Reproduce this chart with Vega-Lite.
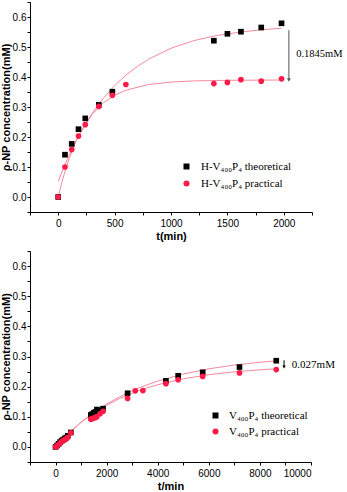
{
  "$schema": "https://vega.github.io/schema/vega-lite/v6.json",
  "padding": {"left": 0, "top": 1, "right": 0, "bottom": 0},
  "spacing": 9,
  "config": {
    "view": {"stroke": null},
    "axis": {
      "grid": false,
      "domainColor": "#000000",
      "tickColor": "#000000",
      "labelColor": "#000000",
      "titleColor": "#000000",
      "labelFont": "Liberation Sans",
      "labelFontSize": 10,
      "titleFont": "Liberation Sans",
      "titleFontSize": 11,
      "titleFontWeight": "bold",
      "labelPadding": 1,
      "tickSize": 3
    },
    "axisX": {"labelPadding": 3, "titlePadding": 2},
    "axisY": {"titlePadding": 1},
    "legend": {
      "labelFont": "Liberation Serif",
      "labelFontSize": 11,
      "labelColor": "#000000",
      "padding": 0,
      "rowPadding": 5,
      "labelOffset": 9,
      "symbolSize": 36,
      "symbolStrokeWidth": 0
    }
  },
  "datasets": {
    "top_pts": [
      {"t": 0, "y": 0, "series": "H-V₄₀₀P₄ theoretical"},
      {"t": 60, "y": 0.141, "series": "H-V₄₀₀P₄ theoretical"},
      {"t": 120, "y": 0.177, "series": "H-V₄₀₀P₄ theoretical"},
      {"t": 180, "y": 0.226, "series": "H-V₄₀₀P₄ theoretical"},
      {"t": 240, "y": 0.262, "series": "H-V₄₀₀P₄ theoretical"},
      {"t": 360, "y": 0.307, "series": "H-V₄₀₀P₄ theoretical"},
      {"t": 480, "y": 0.351, "series": "H-V₄₀₀P₄ theoretical"},
      {"t": 1380, "y": 0.521, "series": "H-V₄₀₀P₄ theoretical"},
      {"t": 1500, "y": 0.544, "series": "H-V₄₀₀P₄ theoretical"},
      {"t": 1620, "y": 0.551, "series": "H-V₄₀₀P₄ theoretical"},
      {"t": 1800, "y": 0.565, "series": "H-V₄₀₀P₄ theoretical"},
      {"t": 1980, "y": 0.579, "series": "H-V₄₀₀P₄ theoretical"},
      {"t": 0, "y": 0, "series": "H-V₄₀₀P₄ practical"},
      {"t": 60, "y": 0.1, "series": "H-V₄₀₀P₄ practical"},
      {"t": 120, "y": 0.158, "series": "H-V₄₀₀P₄ practical"},
      {"t": 180, "y": 0.203, "series": "H-V₄₀₀P₄ practical"},
      {"t": 240, "y": 0.241, "series": "H-V₄₀₀P₄ practical"},
      {"t": 360, "y": 0.302, "series": "H-V₄₀₀P₄ practical"},
      {"t": 480, "y": 0.339, "series": "H-V₄₀₀P₄ practical"},
      {"t": 600, "y": 0.375, "series": "H-V₄₀₀P₄ practical"},
      {"t": 1380, "y": 0.378, "series": "H-V₄₀₀P₄ practical"},
      {"t": 1500, "y": 0.382, "series": "H-V₄₀₀P₄ practical"},
      {"t": 1620, "y": 0.391, "series": "H-V₄₀₀P₄ practical"},
      {"t": 1800, "y": 0.386, "series": "H-V₄₀₀P₄ practical"},
      {"t": 1980, "y": 0.394, "series": "H-V₄₀₀P₄ practical"}
    ],
    "top_fit": [
      {"t": 0, "y": 0.052, "fit": "theoretical"},
      {"t": 50, "y": 0.099, "fit": "theoretical"},
      {"t": 100, "y": 0.142, "fit": "theoretical"},
      {"t": 150, "y": 0.181, "fit": "theoretical"},
      {"t": 200, "y": 0.216, "fit": "theoretical"},
      {"t": 300, "y": 0.278, "fit": "theoretical"},
      {"t": 400, "y": 0.329, "fit": "theoretical"},
      {"t": 500, "y": 0.371, "fit": "theoretical"},
      {"t": 600, "y": 0.406, "fit": "theoretical"},
      {"t": 700, "y": 0.435, "fit": "theoretical"},
      {"t": 800, "y": 0.459, "fit": "theoretical"},
      {"t": 1000, "y": 0.496, "fit": "theoretical"},
      {"t": 1200, "y": 0.521, "fit": "theoretical"},
      {"t": 1400, "y": 0.538, "fit": "theoretical"},
      {"t": 1600, "y": 0.549, "fit": "theoretical"},
      {"t": 1800, "y": 0.5575, "fit": "theoretical"},
      {"t": 1980, "y": 0.5625, "fit": "theoretical"},
      {"t": 0, "y": 0, "fit": "practical"},
      {"t": 25, "y": 0.038, "fit": "practical"},
      {"t": 50, "y": 0.072, "fit": "practical"},
      {"t": 100, "y": 0.131, "fit": "practical"},
      {"t": 150, "y": 0.179, "fit": "practical"},
      {"t": 200, "y": 0.218, "fit": "practical"},
      {"t": 300, "y": 0.275, "fit": "practical"},
      {"t": 400, "y": 0.314, "fit": "practical"},
      {"t": 500, "y": 0.339, "fit": "practical"},
      {"t": 600, "y": 0.356, "fit": "practical"},
      {"t": 800, "y": 0.375, "fit": "practical"},
      {"t": 1000, "y": 0.383, "fit": "practical"},
      {"t": 1200, "y": 0.387, "fit": "practical"},
      {"t": 1500, "y": 0.389, "fit": "practical"},
      {"t": 1980, "y": 0.39, "fit": "practical"}
    ],
    "top_rule": [{"t": 2045, "y": 0.556, "y2": 0.395}],
    "top_head": [{"t": 2045, "y": 0.39}],
    "top_text": [{"t": 2110, "y": 0.476, "label": "0.1845mM"}],
    "bot_pts": [
      {"t": 0, "y": 0, "series": "V₄₀₀P₄ theoretical"},
      {"t": 60, "y": 0.005, "series": "V₄₀₀P₄ theoretical"},
      {"t": 120, "y": 0.01, "series": "V₄₀₀P₄ theoretical"},
      {"t": 180, "y": 0.016, "series": "V₄₀₀P₄ theoretical"},
      {"t": 240, "y": 0.021, "series": "V₄₀₀P₄ theoretical"},
      {"t": 300, "y": 0.024, "series": "V₄₀₀P₄ theoretical"},
      {"t": 360, "y": 0.028, "series": "V₄₀₀P₄ theoretical"},
      {"t": 420, "y": 0.031, "series": "V₄₀₀P₄ theoretical"},
      {"t": 480, "y": 0.037, "series": "V₄₀₀P₄ theoretical"},
      {"t": 600, "y": 0.048, "series": "V₄₀₀P₄ theoretical"},
      {"t": 1380, "y": 0.106, "series": "V₄₀₀P₄ theoretical"},
      {"t": 1440, "y": 0.109, "series": "V₄₀₀P₄ theoretical"},
      {"t": 1500, "y": 0.113, "series": "V₄₀₀P₄ theoretical"},
      {"t": 1560, "y": 0.116, "series": "V₄₀₀P₄ theoretical"},
      {"t": 1620, "y": 0.124, "series": "V₄₀₀P₄ theoretical"},
      {"t": 1740, "y": 0.121, "series": "V₄₀₀P₄ theoretical"},
      {"t": 1860, "y": 0.127, "series": "V₄₀₀P₄ theoretical"},
      {"t": 2820, "y": 0.178, "series": "V₄₀₀P₄ theoretical"},
      {"t": 4320, "y": 0.219, "series": "V₄₀₀P₄ theoretical"},
      {"t": 4800, "y": 0.236, "series": "V₄₀₀P₄ theoretical"},
      {"t": 5760, "y": 0.2475, "series": "V₄₀₀P₄ theoretical"},
      {"t": 7200, "y": 0.265, "series": "V₄₀₀P₄ theoretical"},
      {"t": 8640, "y": 0.286, "series": "V₄₀₀P₄ theoretical"},
      {"t": 0, "y": 0, "series": " V₄₀₀P₄ practical"},
      {"t": 60, "y": 0.004, "series": " V₄₀₀P₄ practical"},
      {"t": 120, "y": 0.008, "series": " V₄₀₀P₄ practical"},
      {"t": 180, "y": 0.013, "series": " V₄₀₀P₄ practical"},
      {"t": 240, "y": 0.018, "series": " V₄₀₀P₄ practical"},
      {"t": 300, "y": 0.021, "series": " V₄₀₀P₄ practical"},
      {"t": 360, "y": 0.024, "series": " V₄₀₀P₄ practical"},
      {"t": 420, "y": 0.027, "series": " V₄₀₀P₄ practical"},
      {"t": 480, "y": 0.032, "series": " V₄₀₀P₄ practical"},
      {"t": 600, "y": 0.047, "series": " V₄₀₀P₄ practical"},
      {"t": 1380, "y": 0.092, "series": " V₄₀₀P₄ practical"},
      {"t": 1440, "y": 0.094, "series": " V₄₀₀P₄ practical"},
      {"t": 1500, "y": 0.096, "series": " V₄₀₀P₄ practical"},
      {"t": 1560, "y": 0.098, "series": " V₄₀₀P₄ practical"},
      {"t": 1620, "y": 0.1, "series": " V₄₀₀P₄ practical"},
      {"t": 1740, "y": 0.11, "series": " V₄₀₀P₄ practical"},
      {"t": 1860, "y": 0.118, "series": " V₄₀₀P₄ practical"},
      {"t": 2820, "y": 0.161, "series": " V₄₀₀P₄ practical"},
      {"t": 3120, "y": 0.186, "series": " V₄₀₀P₄ practical"},
      {"t": 3420, "y": 0.187, "series": " V₄₀₀P₄ practical"},
      {"t": 4320, "y": 0.21, "series": " V₄₀₀P₄ practical"},
      {"t": 4800, "y": 0.223, "series": " V₄₀₀P₄ practical"},
      {"t": 5760, "y": 0.234, "series": " V₄₀₀P₄ practical"},
      {"t": 7200, "y": 0.2455, "series": " V₄₀₀P₄ practical"},
      {"t": 8640, "y": 0.2565, "series": " V₄₀₀P₄ practical"}
    ],
    "bot_fit": [
      {"t": 0, "y": 0, "fit": "theoretical"},
      {"t": 250, "y": 0.023, "fit": "theoretical"},
      {"t": 500, "y": 0.0443, "fit": "theoretical"},
      {"t": 1000, "y": 0.0821, "fit": "theoretical"},
      {"t": 1500, "y": 0.1145, "fit": "theoretical"},
      {"t": 2000, "y": 0.1422, "fit": "theoretical"},
      {"t": 2500, "y": 0.1659, "fit": "theoretical"},
      {"t": 3000, "y": 0.1862, "fit": "theoretical"},
      {"t": 3500, "y": 0.2035, "fit": "theoretical"},
      {"t": 4000, "y": 0.2183, "fit": "theoretical"},
      {"t": 5000, "y": 0.2419, "fit": "theoretical"},
      {"t": 6000, "y": 0.2591, "fit": "theoretical"},
      {"t": 7000, "y": 0.2717, "fit": "theoretical"},
      {"t": 8000, "y": 0.2809, "fit": "theoretical"},
      {"t": 8640, "y": 0.2855, "fit": "theoretical"},
      {"t": 0, "y": 0, "fit": "practical"},
      {"t": 250, "y": 0.0232, "fit": "practical"},
      {"t": 500, "y": 0.0444, "fit": "practical"},
      {"t": 1000, "y": 0.0815, "fit": "practical"},
      {"t": 1500, "y": 0.1127, "fit": "practical"},
      {"t": 2000, "y": 0.1386, "fit": "practical"},
      {"t": 2500, "y": 0.1603, "fit": "practical"},
      {"t": 3000, "y": 0.1785, "fit": "practical"},
      {"t": 3500, "y": 0.1937, "fit": "practical"},
      {"t": 4000, "y": 0.2064, "fit": "practical"},
      {"t": 5000, "y": 0.226, "fit": "practical"},
      {"t": 6000, "y": 0.2397, "fit": "practical"},
      {"t": 7000, "y": 0.2492, "fit": "practical"},
      {"t": 8000, "y": 0.2559, "fit": "practical"},
      {"t": 8640, "y": 0.259, "fit": "practical"}
    ],
    "bot_rule": [{"t": 8945, "y": 0.2876, "y2": 0.268}],
    "bot_head": [{"t": 8945, "y": 0.265}],
    "bot_text": [{"t": 9250, "y": 0.273, "label": "0.027mM"}]
  },
  "vconcat": [
    {
      "width": 282,
      "height": 210,
      "encoding": {
        "x": {
          "field": "t", "type": "quantitative",
          "scale": {"domain": [-250, 2250], "nice": false, "zero": false},
          "axis": {
            "title": "t(min)",
            "format": "d",
            "values": [-250, 0, 250, 500, 750, 1000, 1250, 1500, 1750, 2000, 2250],
            "labelExpr": "datum.value % 500 === 0 ? datum.label : ''"
          }
        },
        "y": {
          "field": "y", "type": "quantitative",
          "scale": {"domain": [-0.05, 0.65], "nice": false, "zero": false},
          "axis": {
            "title": "ρ-NP concentration(mM)",
            "values": [-0.05, 0, 0.05, 0.1, 0.15, 0.2, 0.25, 0.3, 0.35, 0.4, 0.45, 0.5, 0.55, 0.6, 0.65],
            "labelExpr": "abs(round(datum.value*20)) % 2 === 0 ? format(datum.value, '.1f') : ''"
          }
        }
      },
      "layer": [
        {
          "data": {"name": "top_fit"},
          "mark": {"type": "line", "color": "#F4899D", "strokeWidth": 1},
          "encoding": {"detail": {"field": "fit"}}
        },
        {
          "data": {"name": "top_pts"},
          "mark": {"type": "point", "filled": true, "opacity": 1, "size": 32},
          "encoding": {
            "color": {
              "field": "series", "type": "nominal",
              "scale": {"domain": ["H-V₄₀₀P₄ theoretical", "H-V₄₀₀P₄ practical"], "range": ["#000000", "#FF1A47"]},
              "legend": {"title": null, "orient": "none", "legendX": 151, "legendY": 159}
            },
            "shape": {
              "field": "series", "type": "nominal",
              "scale": {"domain": ["H-V₄₀₀P₄ theoretical", "H-V₄₀₀P₄ practical"], "range": ["square", "circle"]},
              "legend": {"title": null, "orient": "none", "legendX": 151, "legendY": 159}
            }
          }
        },
        {
          "data": {"name": "top_rule"},
          "mark": {"type": "rule", "color": "#555555", "strokeWidth": 1},
          "encoding": {"y2": {"field": "y2"}}
        },
        {
          "data": {"name": "top_head"},
          "mark": {"type": "point", "shape": "triangle-down", "filled": true, "color": "#555555", "size": 16, "opacity": 1},
          "encoding": {}
        },
        {
          "data": {"name": "top_text"},
          "mark": {"type": "text", "font": "Liberation Serif", "fontSize": 10.5, "align": "left", "baseline": "middle", "color": "#000000"},
          "encoding": {"text": {"field": "label"}}
        }
      ]
    },
    {
      "width": 281,
      "height": 211,
      "encoding": {
        "x": {
          "field": "t", "type": "quantitative",
          "scale": {"domain": [-1000, 10000], "nice": false, "zero": false},
          "axis": {
            "title": "t/min",
            "format": "d",
            "values": [-1000, 0, 1000, 2000, 3000, 4000, 5000, 6000, 7000, 8000, 9000, 10000],
            "labelExpr": "datum.value % 2000 === 0 ? datum.label : ''"
          }
        },
        "y": {
          "field": "y", "type": "quantitative",
          "scale": {"domain": [-0.05, 0.65], "nice": false, "zero": false},
          "axis": {
            "title": "ρ-NP concentration(mM)",
            "values": [-0.05, 0, 0.05, 0.1, 0.15, 0.2, 0.25, 0.3, 0.35, 0.4, 0.45, 0.5, 0.55, 0.6, 0.65],
            "labelExpr": "abs(round(datum.value*20)) % 2 === 0 ? format(datum.value, '.1f') : ''"
          }
        }
      },
      "layer": [
        {
          "data": {"name": "bot_fit"},
          "mark": {"type": "line", "color": "#F4899D", "strokeWidth": 1},
          "encoding": {"detail": {"field": "fit"}}
        },
        {
          "data": {"name": "bot_pts"},
          "mark": {"type": "point", "filled": true, "opacity": 1, "size": 32},
          "encoding": {
            "color": {
              "field": "series", "type": "nominal",
              "scale": {"domain": ["V₄₀₀P₄ theoretical", " V₄₀₀P₄ practical"], "range": ["#000000", "#FF1A47"]},
              "legend": {"title": null, "orient": "none", "legendX": 180, "legendY": 159, "labelOffset": 8, "rowPadding": 4}
            },
            "shape": {
              "field": "series", "type": "nominal",
              "scale": {"domain": ["V₄₀₀P₄ theoretical", " V₄₀₀P₄ practical"], "range": ["square", "circle"]},
              "legend": {"title": null, "orient": "none", "legendX": 180, "legendY": 159, "labelOffset": 8, "rowPadding": 4}
            }
          }
        },
        {
          "data": {"name": "bot_rule"},
          "mark": {"type": "rule", "color": "#000000", "strokeWidth": 1},
          "encoding": {"y2": {"field": "y2"}}
        },
        {
          "data": {"name": "bot_head"},
          "mark": {"type": "point", "shape": "triangle-down", "filled": true, "color": "#000000", "size": 12, "opacity": 1},
          "encoding": {}
        },
        {
          "data": {"name": "bot_text"},
          "mark": {"type": "text", "font": "Liberation Serif", "fontSize": 11, "align": "left", "baseline": "middle", "color": "#000000"},
          "encoding": {"text": {"field": "label"}}
        }
      ]
    }
  ],
  "resolve": {
    "scale": {"color": "independent", "shape": "independent", "x": "independent", "y": "independent"},
    "legend": {"color": "independent", "shape": "independent"}
  }
}
